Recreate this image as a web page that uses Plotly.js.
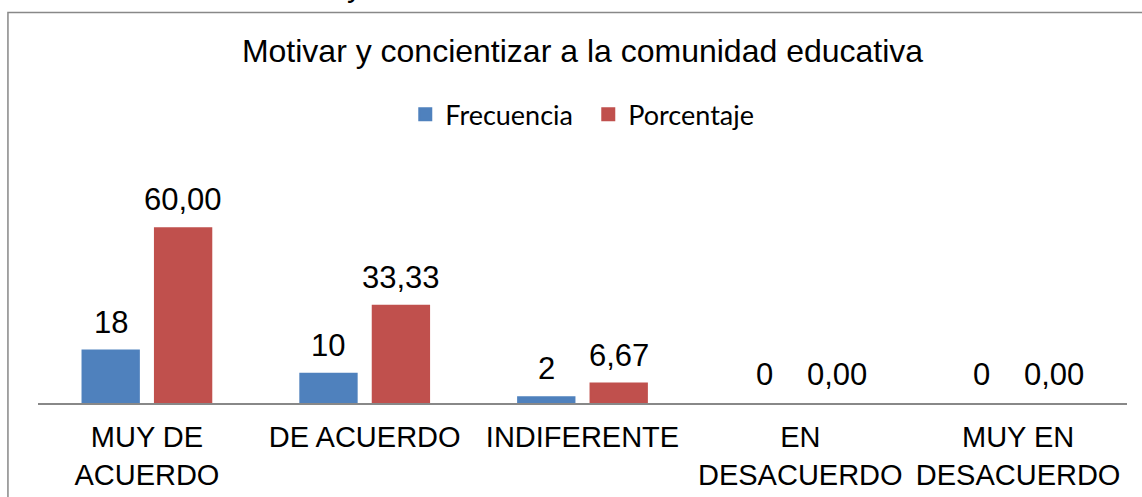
<!DOCTYPE html>
<html>
<head>
<meta charset="utf-8">
<script src="https://cdn.plot.ly/plotly-3.0.1.min.js"></script>
<style>
  html, body { margin: 0; padding: 0; background: #ffffff; }
  #chart { width: 1142px; height: 497px; }
</style>
</head>
<body>
<div id="chart"></div>
<script>
// ---- data ----
const categories = ["MUY DE<br>ACUERDO", "DE ACUERDO", "INDIFERENTE", "EN<br>DESACUERDO", "MUY EN<br>DESACUERDO"];
const frecuencia = [18, 10, 2, 0, 0];
const porcentaje = [60.00, 33.33, 6.67, 0.00, 0.00];
const seriesNames = ["Frecuencia", "Porcentaje"];
const chartTitle = "Motivar y concientizar a la comunidad educativa";

const arial = "Liberation Sans, Arial, sans-serif";
const BARGAP = 0.335;
const BARGROUPGAP = 0.222;
// centre offset of each series inside its category group (category units)
const slot = (1 - BARGAP) / 2;
const seriesOffsets = [-slot / 2, slot / 2];
const colors = ["#4F81BD", "#C0504D"];
// outline only on non-empty bars (so empty bars stay invisible)
const outline = vals => vals.map(v => (v > 0 ? 2 : 0));

const traces = [
  {
    type: "bar",
    name: seriesNames[0],
    x: categories,
    y: frecuencia,
    marker: { color: colors[0], line: { color: colors[0], width: outline(frecuencia) } },
    hoverinfo: "x+y"
  },
  {
    type: "bar",
    name: seriesNames[1],
    x: categories,
    y: porcentaje,
    marker: { color: colors[1], line: { color: colors[1], width: outline(porcentaje) } },
    hoverinfo: "x+y"
  }
];

// data labels, placed at each bar's value through the axes
const labelFont = { family: arial, size: 31, color: "#000000" };
const annotations = [];
const fmtInt = v => String(v);
const fmtPct = v => v.toFixed(2).replace(".", ",");
[frecuencia, porcentaje].forEach((series, s) => {
  series.forEach((v, i) => {
    annotations.push({
      xref: "x", yref: "y",
      x: i + seriesOffsets[s],
      y: v,
      text: s === 0 ? fmtInt(v) : fmtPct(v),
      showarrow: false,
      xanchor: "center",
      yanchor: "bottom",
      yshift: 9,
      font: labelFont
    });
  });
});
// partially visible text from the page above the chart
annotations.push({
  text: "y",
  xref: "paper", yref: "paper",
  x: 0.291, y: 1.9525,
  xanchor: "center", yanchor: "bottom",
  showarrow: false,
  font: { family: arial, size: 31, color: "#000000" }
});

const layout = {
  width: 1142,
  height: 497,
  margin: { l: 38, r: 15, t: 199, b: 94, pad: 0 },
  paper_bgcolor: "#ffffff",
  plot_bgcolor: "#ffffff",
  separators: ",.",
  barmode: "group",
  bargap: BARGAP,
  bargroupgap: BARGROUPGAP,
  showlegend: true,
  title: {
    text: chartTitle,
    font: { family: arial, size: 32, color: "#000000" },
    x: 0.5,
    xref: "paper",
    xanchor: "center",
    y: 0.8977,
    yref: "container",
    yanchor: "middle"
  },
  legend: {
    orientation: "h",
    x: 0.5053,
    xanchor: "center",
    y: 1.413,
    yanchor: "middle",
    entrywidth: 138,
    font: { family: "Lato, Carlito, Calibri, sans-serif", size: 27, color: "#000000" },
    bgcolor: "rgba(0,0,0,0)"
  },
  xaxis: {
    type: "category",
    showline: true,
    linecolor: "#888888",
    linewidth: 1.5,
    ticks: "",
    ticklabelstandoff: 8,
    showgrid: false,
    zeroline: false,
    tickfont: { family: arial, size: 29, color: "#000000" },
    fixedrange: true
  },
  yaxis: {
    range: [0, 70],
    visible: false,
    showgrid: false,
    zeroline: false,
    fixedrange: true
  },
  shapes: [
    {
      type: "rect",
      xref: "paper", yref: "paper",
      x0: -0.0276, x1: 1.1,
      y0: -1.0, y1: 1.9147,
      line: { color: "#888888", width: 1.5 },
      fillcolor: "rgba(0,0,0,0)",
      layer: "below"
    }
  ],
  annotations: annotations
};

Plotly.newPlot("chart", traces, layout, { displayModeBar: false, staticPlot: true });
</script>
</body>
</html>
